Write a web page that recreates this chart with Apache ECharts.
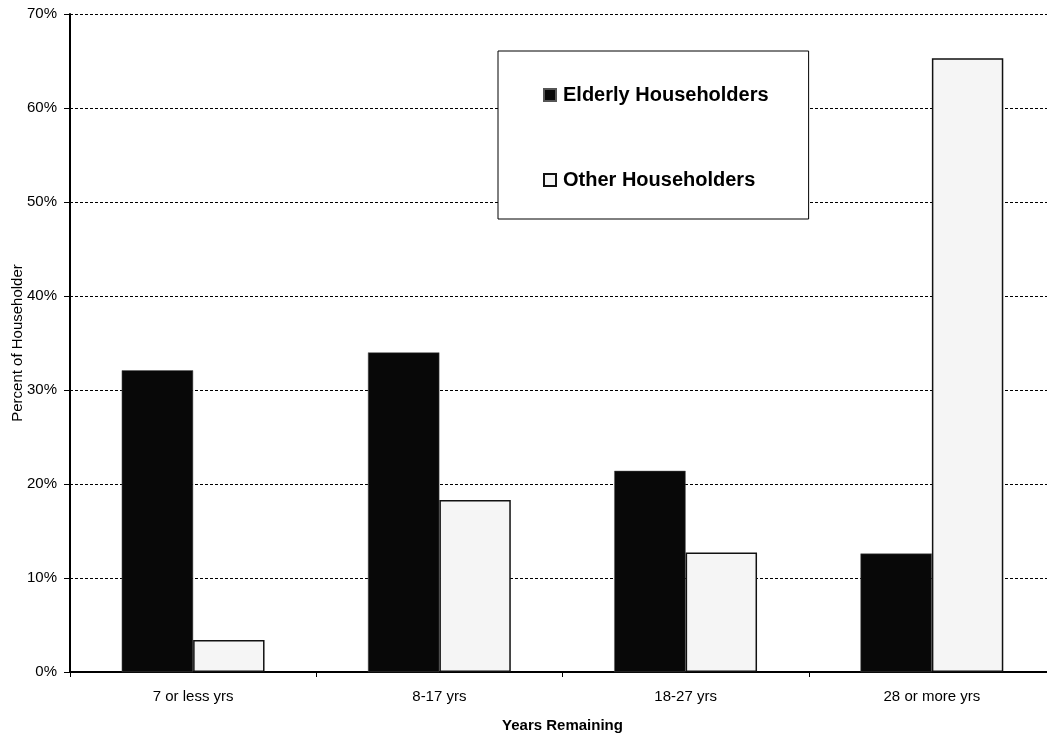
<!DOCTYPE html>
<html>
<head>
<meta charset="utf-8">
<script src="https://cdn.jsdelivr.net/npm/echarts@6/dist/echarts.min.js"></script>
<style>html,body{margin:0;padding:0;background:#fff;}#c{width:1047px;height:736px;}</style>
</head>
<body>
<div id="c"></div>
<script>
const categories = ['7 or less yrs', '8-17 yrs', '18-27 yrs', '28 or more yrs'];
const elderly = [32.1, 34.0, 21.4, 12.6];
const other = [3.4, 18.3, 12.7, 65.3];
const yTicks = [0, 10, 20, 30, 40, 50, 60, 70];

const chart = echarts.init(document.getElementById('c'));
const font = 'Arial, "Liberation Sans", sans-serif';
chart.setOption({
  animation: false,
  backgroundColor: '#fff',
  grid: { left: 70, top: 14, width: 985, height: 658, containLabel: false, outerBoundsMode: 'none' },
  legend: {
    left: 498, top: 51,
    orient: 'vertical',
    backgroundColor: '#fff',
    borderColor: '#000', borderWidth: 1,
    padding: [33, 40, 28, 45],
    itemGap: 63,
    itemWidth: 12, itemHeight: 12,
    icon: 'rect',
    textStyle: { fontFamily: font, fontWeight: 'bold', fontSize: 20, color: '#000', lineHeight: 22, padding: [0, 0, 0, 2] },
    data: ['Elderly Householders', 'Other Householders']
  },
  xAxis: {
    type: 'category',
    data: categories,
    name: 'Years Remaining',
    nameLocation: 'middle',
    nameGap: 46,
    nameMoveOverlap: false,
    nameTextStyle: { fontFamily: font, fontWeight: 'bold', fontSize: 15, color: '#000' },
    axisLine: { lineStyle: { color: '#000', width: 2 } },
    axisTick: { show: true, length: 5, lineStyle: { color: '#000', width: 1 } },
    axisLabel: { fontFamily: font, fontSize: 15, color: '#000', margin: 17 }
  },
  yAxis: {
    type: 'value',
    min: yTicks[0], max: yTicks[yTicks.length - 1], interval: 10,
    name: 'Percent of Householder',
    nameLocation: 'middle',
    nameGap: 45,
    nameMoveOverlap: false,
    nameTextStyle: { fontFamily: font, fontSize: 15, color: '#000' },
    axisLine: { show: true, lineStyle: { color: '#000', width: 2 } },
    axisTick: { show: true, length: 6, lineStyle: { color: '#000', width: 1 } },
    axisLabel: { fontFamily: font, fontSize: 15, color: '#000', margin: 13, formatter: v => v + '%' },
    splitLine: { show: true, lineStyle: { color: '#000', width: 1, type: [3, 2] } }
  },
  series: [
    {
      name: 'Elderly Householders', type: 'bar', data: elderly,
      barGap: '0%', barCategoryGap: '42%',
      itemStyle: { color: '#080808', borderColor: '#555', borderWidth: 0.5 }
    },
    {
      name: 'Other Householders', type: 'bar', data: other,
      itemStyle: { color: '#f5f5f5', borderColor: '#111', borderWidth: 1.5 }
    }
  ]
});
</script>
</body>
</html>
